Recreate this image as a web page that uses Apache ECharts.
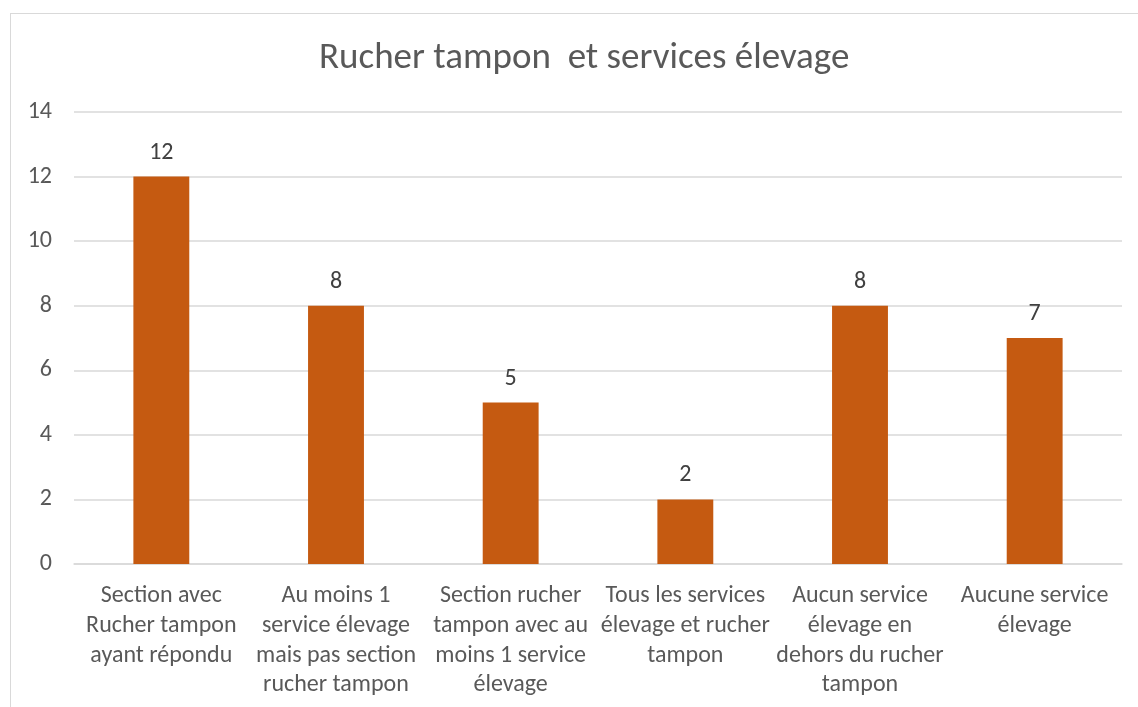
<!DOCTYPE html>
<html>
<head>
<meta charset="utf-8">
<script src="https://cdn.jsdelivr.net/npm/echarts@6/dist/echarts.min.js"></script>
<style>
  html, body { margin: 0; padding: 0; background: #fff; }
  #frame { position: absolute; left: 10px; top: 13px; width: 1140px; height: 700px; border: 1px solid #d9d9d9; box-sizing: border-box; }
  #main { position: absolute; left: 0; top: 0; width: 1138px; height: 707px; }
</style>
</head>
<body>
<div id="frame"></div>
<div id="main"></div>
<script>
// catégories (retours à la ligne comme sur l'original)
const categories = [
  'Section avec\nRucher tampon\nayant répondu',
  'Au moins 1\nservice élevage\nmais pas section\nrucher tampon',
  'Section rucher\ntampon avec au\nmoins 1 service\nélevage',
  'Tous les services\nélevage et rucher\ntampon',
  'Aucun service\nélevage en\ndehors du rucher\ntampon',
  'Aucune service\nélevage'
];
const values = [12, 8, 5, 2, 8, 7];
const yTicks = { min: 0, max: 14, interval: 2 };

const font = 'Carlito, "Open Sans", "Noto Sans", sans-serif';

let myChart = echarts.init(document.getElementById('main'));
myChart.setOption({
  animation: false,
  title: {
    text: 'Rucher tampon  et services élevage',
    left: 314,
    top: 35,
    textStyle: { fontFamily: font, fontSize: 37, fontWeight: 'normal', color: '#595959' }
  },
  grid: { left: 74, right: 16, top: 112, bottom: 143 },
  xAxis: {
    type: 'category',
    data: categories,
    axisLine: { lineStyle: { color: '#d9d9d9', width: 1.5 } },
    axisTick: { show: false },
    axisLabel: {
      interval: 0, margin: 17, color: '#595959',
      fontFamily: font, fontSize: 24, lineHeight: 29.8
    }
  },
  yAxis: {
    type: 'value',
    min: yTicks.min, max: yTicks.max, interval: yTicks.interval,
    axisLine: { show: false },
    axisTick: { show: false },
    splitLine: { lineStyle: { color: '#d9d9d9', width: 1.5 } },
    axisLabel: { margin: 22, color: '#595959', fontFamily: font, fontSize: 24 }
  },
  series: [{
    type: 'bar',
    data: values,
    barWidth: '32%',
    itemStyle: { color: '#c55a11' },
    label: {
      show: true, position: 'top', distance: 12,
      color: '#404040', fontFamily: font, fontSize: 24
    }
  }]
});
</script>
</body>
</html>
